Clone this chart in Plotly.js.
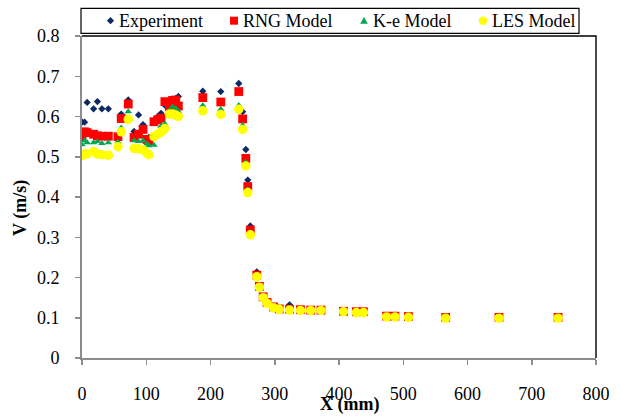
<!DOCTYPE html>
<html>
<head>
<meta charset="utf-8">
<script src="https://cdn.plot.ly/plotly-3.0.1.min.js"></script>
<style>
  html, body { margin: 0; padding: 0; background: #ffffff; }
  #chart { width: 622px; height: 416px; }
</style>
</head>
<body>
<div id="chart"></div>
<script>
// Axial distance along the channel (mm)
const xPos = [0, 4, 8, 18, 24, 31, 41,
  56, 61, 72, 81, 88, 95, 101, 104, 112, 118, 123, 129, 136, 141, 146, 150,
  188, 216, 244, 250, 255, 258, 262,
  272, 276, 282, 288, 298, 307, 323, 340, 356, 372, 407, 427, 438, 474, 487, 508, 566, 649, 741];

// Velocity V (m/s) for each data set
const vExperiment = [0.586, 0.586, 0.635, 0.619, 0.637, 0.619, 0.619,
  0.553, 0.606, 0.641, 0.563, 0.604, 0.580, 0.545, 0.548, 0.591, 0.600, 0.608, 0.628, 0.618, 0.637, 0.645, 0.650,
  0.663, 0.662, 0.682, 0.612, 0.518, 0.442, 0.328,
  0.214, 0.180, 0.153, 0.139, 0.128, 0.123, 0.132, 0.120, 0.119, 0.119, 0.117, 0.115, 0.115, 0.104, 0.104, 0.103, 0.101, 0.101, 0.101];

const vRNG = [0.548, 0.562, 0.560, 0.556, 0.552, 0.551, 0.551,
  0.550, 0.595, 0.631, 0.548, 0.556, 0.568, 0.543, 0.540, 0.587, 0.592, 0.596, 0.637, 0.625, 0.640, 0.641, 0.626,
  0.647, 0.636, 0.662, 0.594, 0.496, 0.426, 0.318,
  0.206, 0.178, 0.152, 0.138, 0.127, 0.122, 0.121, 0.120, 0.119, 0.119, 0.116, 0.115, 0.115, 0.104, 0.104, 0.103, 0.101, 0.101, 0.101];

const vKe = [0.530, 0.540, 0.535, 0.535, 0.538, 0.533, 0.535,
  0.537, 0.572, 0.612, 0.540, 0.538, 0.540, 0.532, 0.528, 0.529, 0.560, 0.576, 0.582, 0.615, 0.624, 0.620, 0.612,
  0.627, 0.618, 0.628, 0.578, 0.487, 0.419, 0.312,
  0.204, 0.177, 0.151, 0.137, 0.126, 0.121, 0.120, 0.119, 0.118, 0.118, 0.115, 0.114, 0.114, 0.103, 0.103, 0.102, 0.100, 0.100, 0.100];

const vLES = [0.503, 0.507, 0.507, 0.513, 0.507, 0.505, 0.504,
  0.525, 0.562, 0.593, 0.521, 0.520, 0.517, 0.509, 0.505, 0.550, 0.556, 0.562, 0.570, 0.606, 0.606, 0.603, 0.600,
  0.614, 0.605, 0.618, 0.568, 0.477, 0.411, 0.306,
  0.202, 0.176, 0.150, 0.136, 0.125, 0.121, 0.119, 0.118, 0.118, 0.118, 0.115, 0.113, 0.113, 0.102, 0.102, 0.101, 0.099, 0.099, 0.099];

const seriesNames = ['Experiment', 'RNG Model', 'K-e Model', 'LES Model'];
const xTicks = [0, 100, 200, 300, 400, 500, 600, 700, 800];
const yTicks = [0, 0.1, 0.2, 0.3, 0.4, 0.5, 0.6, 0.7, 0.8];

// Styling
const W = 622, H = 416;
const M = { l: 82, r: 26, t: 36, b: 58 };
const PW = W - M.l - M.r, PH = H - M.t - M.b;
const serif = 'Liberation Serif, Times New Roman, serif';
const colors = ['#0b2a63', '#ff0000', '#00a850', '#ffff00'];
const symbols = ['diamond', 'square', 'triangle-up', 'circle'];
const sizes = [5.6, 8.8, 6.6, 9.5];
const axisGray = '#8c8c8c';

// pixel -> paper helpers for the frame, legend box and titles
const px = v => (v - M.l) / PW;
const py = v => (H - M.b - v) / PH;

const values = [vExperiment, vRNG, vKe, vLES];
const traces = values.map((v, i) => ({
  type: 'scatter',
  mode: 'markers',
  name: seriesNames[i],
  x: xPos,
  y: v,
  marker: { symbol: symbols[i], size: sizes[i], color: colors[i], line: { width: 0 } },
  showlegend: false,
  hoverinfo: 'x+y+name'
}));

// Legend keys (pixel sized, anchored in paper space) and labels
const legendKeyX = [110.5, 234, 364, 483];
const legendTextX = [117, 241, 371, 489.5];
const legendY = 20.7;

const shapes = [
  // plot-area frame on top and right
  { type: 'path', xref: 'paper', yref: 'paper', path: 'M 0,1 L 1,1 L 1,0',
    line: { color: '#000000', width: 1.4 }, layer: 'below' },
  // legend box
  { type: 'rect', xref: 'paper', yref: 'paper',
    x0: px(81), x1: px(579), y0: py(33.3), y1: py(8.3),
    line: { color: '#000000', width: 1.2 }, fillcolor: '#ffffff', layer: 'above' }
];
const keyBase = i => ({
  xref: 'paper', yref: 'paper', xsizemode: 'pixel', ysizemode: 'pixel',
  xanchor: px(legendKeyX[i]), yanchor: py(legendY),
  fillcolor: colors[i], line: { width: 0 }, layer: 'above'
});
shapes.push(Object.assign(keyBase(0), { type: 'path', path: 'M0,3.6 L3.6,0 L0,-3.6 L-3.6,0 Z' }));
shapes.push(Object.assign(keyBase(1), { type: 'rect', x0: -4, x1: 4, y0: -4, y1: 4 }));
shapes.push(Object.assign(keyBase(2), { type: 'path', path: 'M0,3.8 L3.8,-3 L-3.8,-3 Z' }));
shapes.push(Object.assign(keyBase(3), { type: 'circle', x0: -4.2, x1: 4.2, y0: -4.2, y1: 4.2 }));

const annotations = seriesNames.map((n, i) => ({
  xref: 'paper', yref: 'paper', x: px(legendTextX[i]), y: py(legendY),
  xanchor: 'left', yanchor: 'middle', showarrow: false,
  text: n, font: { family: serif, size: 18, color: '#000000' }
}));
annotations.push({
  xref: 'paper', yref: 'paper', x: px(20), y: py(208), textangle: -90,
  xanchor: 'center', yanchor: 'middle', showarrow: false,
  text: '<b>V (m/s)</b>', font: { family: serif, size: 18, color: '#000000' }
});
annotations.push({
  xref: 'paper', yref: 'paper', x: px(349), y: py(404),
  xanchor: 'center', yanchor: 'middle', showarrow: false,
  text: '<b>X (mm)</b>', font: { family: serif, size: 18, color: '#000000' }
});

const layout = {
  width: W, height: H,
  margin: M,
  paper_bgcolor: '#ffffff', plot_bgcolor: '#ffffff',
  showlegend: false,
  font: { family: serif, size: 18, color: '#000000' },
  xaxis: {
    range: [0, 800], tickvals: xTicks, ticktext: xTicks.map(String),
    showgrid: false, zeroline: false,
    showline: true, linecolor: axisGray, linewidth: 2,
    ticks: 'outside', ticklen: 5, tickwidth: 1.5, tickcolor: axisGray,
    ticklabelstandoff: 13,
    tickfont: { family: serif, size: 18, color: '#000000' },
    fixedrange: true
  },
  yaxis: {
    range: [0, 0.8], tickvals: yTicks, ticktext: yTicks.map(String),
    showgrid: false, zeroline: false,
    showline: true, linecolor: axisGray, linewidth: 2,
    ticks: 'outside', ticklen: 5, tickwidth: 1.5, tickcolor: axisGray,
    ticklabelstandoff: 12,
    tickfont: { family: serif, size: 18, color: '#000000' },
    fixedrange: true
  },
  shapes: shapes,
  annotations: annotations
};

Plotly.newPlot('chart', traces, layout, { displayModeBar: false, staticPlot: true });
</script>
</body>
</html>
